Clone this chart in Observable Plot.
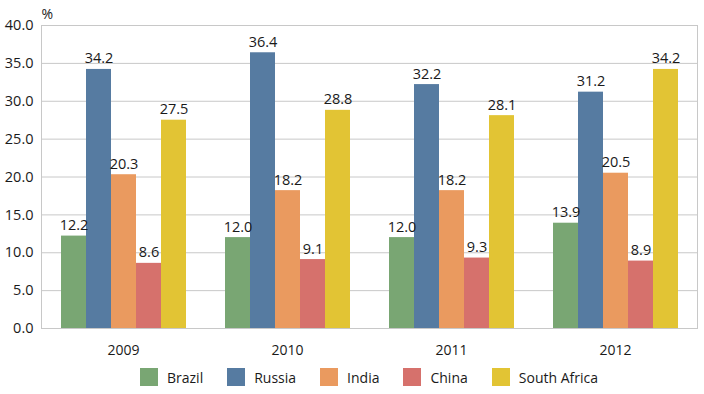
<!DOCTYPE html>
<html>
<head>
<meta charset="utf-8">
<script src="https://cdn.jsdelivr.net/npm/d3@7"></script>
<script src="https://cdn.jsdelivr.net/npm/@observablehq/plot@0.6"></script>
<style>
  body { margin: 0; background: #fff; font-family: 'Open Sans', sans-serif; }
  #chart { position: relative; width: 704px; height: 360px; }
  #chart svg { position: absolute; left: 0; top: 0; }
  #legend { width: 704px; box-sizing: border-box; padding-left: 34px; display: flex; justify-content: center; gap: 24px; font-size: 14px; color: #1a1a1a; height: 34px; align-items: center; }
  #legend .item { display: flex; align-items: center; gap: 9px; }
  #legend .sw { width: 18px; height: 18px; display: inline-block; }
</style>
</head>
<body>
<div id="chart"></div>
<div id="legend"></div>
<script>
const years = ["2009", "2010", "2011", "2012"];
const countries = ["Brazil", "Russia", "India", "China", "South Africa"];
const colors = ["#79a673", "#567ba1", "#ea9a5f", "#d6716c", "#e2c434"];
const brazil = [12.2, 12.0, 12.0, 13.9];
const russia = [34.2, 36.4, 32.2, 31.2];
const india = [20.3, 18.2, 18.2, 20.5];
const china = [8.6, 9.1, 9.3, 8.9];
const southAfrica = [27.5, 28.8, 28.1, 34.2];
const yTicks = [0, 5, 10, 15, 20, 25, 30, 35, 40];

const series = [brazil, russia, india, china, southAfrica];
const data = [];
years.forEach((yr, i) => countries.forEach((c, j) => data.push({year: yr, country: c, value: series[j][i]})));

const common = {
  width: 704,
  height: 360,
  marginTop: 25,
  marginBottom: 32,
  marginLeft: 41,
  marginRight: 7,
  style: {fontFamily: "'Open Sans', sans-serif", fontSize: "14px", color: "#1a1a1a", background: "transparent"}
};
const yScale = {domain: [0, 40], ticks: yTicks, tickFormat: d => d.toFixed(1), label: null, tickSize: 0, tickPadding: 8};

// Background: gridlines, frame, y axis, unit
const back = Plot.plot({
  ...common,
  style: {...common.style, background: "#fff", fontSize: "14.5px"},
  x: {domain: [0, 1], axis: null},
  y: yScale,
  marks: [
    Plot.ruleY(yTicks, {stroke: "#c8c8c8", strokeWidth: 1}),
    Plot.frame({stroke: "#c8c8c8"}),
    Plot.text(["%"], {frameAnchor: "top-left", textAnchor: "start", dy: -16, fill: "#1a1a1a", fontSize: 14})
  ]
});

// Foreground: grouped bars
const front = Plot.plot({
  ...common,
  fx: {domain: years, paddingInner: 0.23, paddingOuter: 0.115, label: null, tickSize: 0, tickPadding: 17},
  x: {domain: countries, padding: 0, axis: null},
  y: {...yScale, axis: null},
  color: {domain: countries, range: colors},
  marks: [
    Plot.barY(data, {fx: "year", x: "country", y: "value", fill: "country"}),
    Plot.text(data, {fx: "year", x: "country", y: "value", text: d => d.value.toFixed(1), dy: -6, lineAnchor: "bottom", fill: "#1a1a1a", fontSize: 14.5})
  ]
});
const holder = document.getElementById("chart");
holder.appendChild(back);
holder.appendChild(front);

const legend = document.getElementById("legend");
countries.forEach((c, i) => {
  const item = document.createElement("span");
  item.className = "item";
  const sw = document.createElement("span");
  sw.className = "sw";
  sw.style.background = colors[i];
  const t = document.createElement("span");
  t.textContent = c;
  item.appendChild(sw);
  item.appendChild(t);
  legend.appendChild(item);
});
</script>
</body>
</html>
